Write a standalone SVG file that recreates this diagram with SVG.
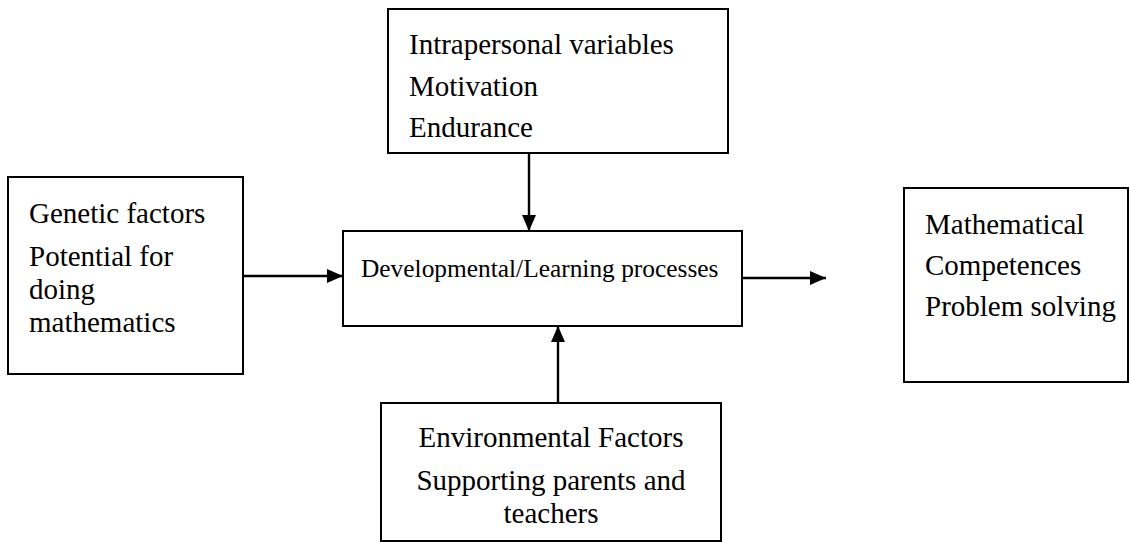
<svg xmlns="http://www.w3.org/2000/svg" width="1129" height="542" viewBox="0 0 1129 542">
  <style>
    .box { fill: #ffffff; stroke: #000000; stroke-width: 2; }
    .lbl { font-family: "Liberation Serif", "Times New Roman", serif; font-size: 29px; fill: #000000; }
    .small { font-size: 25.4px; }
    .mid { text-anchor: middle; }
    .link { stroke: #000000; stroke-width: 2.4; fill: none; }
  </style>
  <defs>
    <marker id="head" viewBox="0 0 16 14" refX="16" refY="7" markerWidth="16" markerHeight="14" markerUnits="userSpaceOnUse" orient="auto">
      <path d="M0,0 L16,7 L0,14 Z" fill="#000000"/>
    </marker>
  </defs>
  <rect width="1129" height="542" fill="#ffffff"/>

  <!-- connectors -->
  <g id="connectors">
    <line class="link" x1="244" y1="276" x2="343" y2="276" marker-end="url(#head)"/>
    <line class="link" x1="742" y1="278" x2="826" y2="278" marker-end="url(#head)"/>
    <line class="link" x1="529" y1="153" x2="529" y2="231" marker-end="url(#head)"/>
    <line class="link" x1="558" y1="403" x2="558" y2="326" marker-end="url(#head)"/>
  </g>

  <!-- intrapersonal variables -->
  <g id="intrapersonal">
    <rect class="box" x="388" y="9" width="340" height="144"/>
    <text class="lbl" x="409" y="54">Intrapersonal variables</text>
    <text class="lbl" x="409" y="96">Motivation</text>
    <text class="lbl" x="409" y="137">Endurance</text>
  </g>

  <!-- genetic factors -->
  <g id="genetic">
    <rect class="box" x="8" y="177" width="235" height="197"/>
    <text class="lbl" x="29" y="223">Genetic factors</text>
    <text class="lbl" x="29" y="266">Potential for</text>
    <text class="lbl" x="29" y="299">doing</text>
    <text class="lbl" x="29" y="332">mathematics</text>
  </g>

  <!-- developmental / learning processes -->
  <g id="processes">
    <rect class="box" x="343" y="231" width="399" height="95"/>
    <text class="lbl small" x="361" y="277">Developmental/Learning processes</text>
  </g>

  <!-- mathematical competences -->
  <g id="competences">
    <rect class="box" x="904" y="188" width="224" height="194"/>
    <text class="lbl" x="925" y="234">Mathematical</text>
    <text class="lbl" x="925" y="275">Competences</text>
    <text class="lbl" x="925" y="316">Problem solving</text>
  </g>

  <!-- environmental factors -->
  <g id="environmental">
    <rect class="box" x="381" y="403" width="340" height="138"/>
    <text class="lbl mid" x="551" y="447">Environmental Factors</text>
    <text class="lbl mid" x="551" y="490">Supporting parents and</text>
    <text class="lbl mid" x="551" y="523">teachers</text>
  </g>
</svg>
